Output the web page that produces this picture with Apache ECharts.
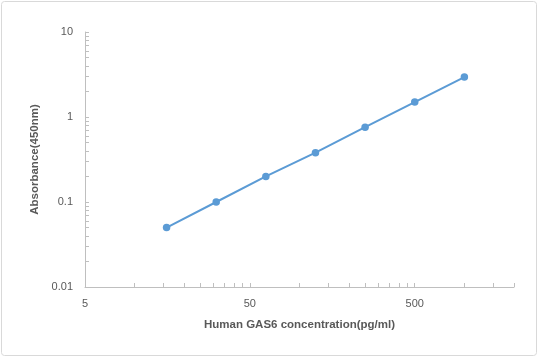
<!DOCTYPE html>
<html><head><meta charset="utf-8">
<script src="https://cdn.jsdelivr.net/npm/echarts@6/dist/echarts.min.js"></script>
<style>html,body{margin:0;padding:0;background:#fff}#c{width:539px;height:358px}</style>
</head><body><div id="c"></div>
<script>
const concentration = [15.625, 31.25, 62.5, 125, 250, 500, 1000];
const absorbance = [0.05, 0.1, 0.2, 0.38, 0.76, 1.5, 2.95];
const xTickLabels = [5, 50, 500];
const yTickLabels = [0.01, 0.1, 1, 10];

// minor tick positions (Excel-style: multiples of each decade's base)
function minorTicks(start, end) {
  const out = [];
  for (let base = start; base < end * 1.0001; base *= 10) {
    for (let k = 1; k <= 9; k++) {
      const v = +(base * k).toPrecision(6);
      if (v <= end * 1.0001) out.push(v);
    }
  }
  return out;
}

const chart = echarts.init(document.getElementById('c'));
const font = '"Liberation Sans", Arial, sans-serif';
chart.setOption({
  animation: false,
  graphic: [{type:'rect', shape:{x:1.5,y:1.5,width:535,height:354,r:3}, style:{fill:'none', stroke:'#d9d9d9', lineWidth:1}}],
  grid: {left: 85, right: 25, top: 32, bottom: 71},
  xAxis: {
    type: 'log', logBase: 10, min: 5, max: 2000,
    name: 'Human GAS6 concentration(pg/ml)', nameLocation: 'middle', nameGap: 32,
    nameTextStyle: {fontFamily: font, fontSize: 11.5, fontWeight: 'bold', color: '#595959'},
    axisLine: {lineStyle: {color: '#bfbfbf'}},
    axisTick: {show: true, inside: true, length: 4, customValues: minorTicks(5, 2000), lineStyle: {color: '#bfbfbf'}},
    splitLine: {show: false},
    axisLabel: {fontFamily: font, fontSize: 11, color: '#595959', margin: 11, customValues: xTickLabels,
      formatter: v => String(+(+v).toPrecision(6))}
  },
  yAxis: {
    type: 'log', logBase: 10, min: 0.01, max: 10,
    name: 'Absorbance(450nm)', nameLocation: 'middle', nameGap: 44,
    nameTextStyle: {fontFamily: font, fontSize: 11.5, fontWeight: 'bold', color: '#595959'},
    axisLine: {show: true, lineStyle: {color: '#bfbfbf'}},
    axisTick: {show: true, inside: true, length: 4, customValues: minorTicks(0.01, 10), lineStyle: {color: '#bfbfbf'}},
    splitLine: {show: false},
    axisLabel: {fontFamily: font, fontSize: 11, color: '#595959', margin: 12, customValues: yTickLabels,
      formatter: v => String(+(+v).toPrecision(6))}
  },
  series: [{
    type: 'line',
    data: concentration.map((c, i) => [c, absorbance[i]]),
    symbol: 'circle', symbolSize: 7.5,
    lineStyle: {color: '#5b9bd5', width: 2},
    itemStyle: {color: '#5b9bd5'}
  }]
});
</script></body></html>
